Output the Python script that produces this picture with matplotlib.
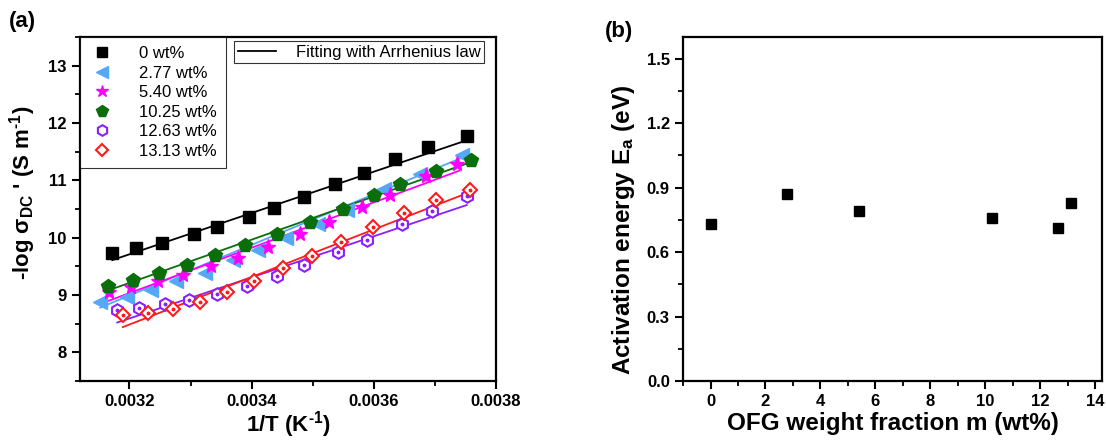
import numpy as np
import matplotlib
matplotlib.use('Agg')
import matplotlib.pyplot as plt
from matplotlib.ticker import MultipleLocator, FormatStrFormatter

plt.rcParams['font.family'] = ['Liberation Sans', 'DejaVu Sans']
plt.rcParams['mathtext.fontset'] = 'custom'
plt.rcParams['mathtext.rm'] = 'Liberation Sans:bold'
plt.rcParams['mathtext.it'] = 'Liberation Sans:bold'
plt.rcParams['mathtext.bf'] = 'Liberation Sans:bold'
plt.rcParams['mathtext.default'] = 'regular'

# ---- panel (a): -log sigma_DC vs 1/T ----
labels = ['0 wt%', '2.77 wt%', '5.40 wt%', '10.25 wt%', '12.63 wt%', '13.13 wt%']

x_0 = [0.003172, 0.003210, 0.003254, 0.003305, 0.003344, 0.003396, 0.003437,
       0.003485, 0.003536, 0.003584, 0.003635, 0.003689, 0.003752]
y_0 = [9.73, 9.82, 9.90, 10.06, 10.18, 10.36, 10.52, 10.71, 10.93, 11.13,
       11.37, 11.58, 11.77]

x_277 = [0.003152, 0.003196, 0.003235, 0.003276, 0.003324, 0.003370, 0.003411,
         0.003457, 0.003509, 0.003556, 0.003616, 0.003676, 0.003744]
y_277 = [8.87, 8.96, 9.09, 9.24, 9.39, 9.61, 9.79, 10.00, 10.24, 10.49,
         10.85, 11.12, 11.44]

x_540 = [0.003166, 0.003202, 0.003246, 0.003287, 0.003333, 0.003377, 0.003426,
         0.003479, 0.003527, 0.003580, 0.003627, 0.003686, 0.003736]
y_540 = [9.05, 9.14, 9.24, 9.35, 9.50, 9.64, 9.83, 10.06, 10.28, 10.53,
         10.74, 11.07, 11.29]

x_1025 = [0.003165, 0.003205, 0.003249, 0.003294, 0.003340, 0.003389, 0.003442,
          0.003496, 0.003549, 0.003600, 0.003643, 0.003702, 0.003759]
y_1025 = [9.15, 9.27, 9.39, 9.53, 9.69, 9.87, 10.06, 10.27, 10.50, 10.74,
          10.93, 11.17, 11.36]

x_1263 = [0.003180, 0.003215, 0.003258, 0.003298, 0.003343, 0.003392, 0.003441,
          0.003485, 0.003542, 0.003588, 0.003646, 0.003695, 0.003752]
y_1263 = [8.74, 8.77, 8.85, 8.92, 9.01, 9.16, 9.34, 9.52, 9.75, 9.96,
          10.24, 10.46, 10.73]

x_1313 = [0.003189, 0.003230, 0.003271, 0.003315, 0.003359, 0.003404, 0.003451,
          0.003498, 0.003546, 0.003598, 0.003650, 0.003702, 0.003758]
y_1313 = [8.66, 8.69, 8.75, 8.88, 9.05, 9.25, 9.47, 9.68, 9.93, 10.18,
          10.44, 10.65, 10.83]

# Arrhenius fit lines (end points)
fit_x = [[0.003172, 0.003752], [0.003152, 0.003752], [0.003166, 0.003740],
         [0.003165, 0.003759], [0.003180, 0.003752], [0.003189, 0.003758]]
fit_y = [[9.61, 11.70], [8.78, 11.43], [8.90, 11.17],
         [9.08, 11.32], [8.52, 10.57], [8.44, 10.80]]

# ---- panel (b): activation energy ----
m_frac = [0, 2.77, 5.40, 10.25, 12.63, 13.13]
Ea = [0.73, 0.87, 0.79, 0.76, 0.71, 0.83]

colors = ['black', '#55a8f5', '#ff00ff', '#0a6e0a', '#8a1fff', '#ff1a1a']
markers = ['s', '<', '*', 'p', 'h', 'D']
msizes = [8.5, 10, 11, 10, 9, 7]
filled = [True, True, True, True, False, False]

xs = [x_0, x_277, x_540, x_1025, x_1263, x_1313]
ys = [y_0, y_277, y_540, y_1025, y_1263, y_1313]

fig = plt.figure(figsize=(11.06, 4.42), dpi=100)
ax1 = fig.add_axes([0.0723, 0.138, 0.3762, 0.778])
ax2 = fig.add_axes([0.6176, 0.138, 0.3788, 0.778])

# Fit lines
line_handle = None
for i in range(6):
    l, = ax1.plot(fit_x[i], fit_y[i], '-', color=colors[i], lw=1.3, zorder=2)
    if i == 0:
        line_handle = l

# Data points
handles = []
for i in range(6):
    if filled[i]:
        h, = ax1.plot(xs[i], ys[i], ls='none', marker=markers[i], ms=msizes[i],
                      color=colors[i], mec=colors[i], zorder=3)
    else:
        h, = ax1.plot(xs[i], ys[i], ls='none', marker=markers[i], ms=msizes[i],
                      mfc='white', mec=colors[i], mew=1.5, zorder=3)
        ax1.plot(xs[i], ys[i], ls='none', marker='o', ms=1.8,
                 color=colors[i], zorder=4)
    handles.append(h)

ax1.set_xlim(0.003119, 0.0038)
ax1.set_ylim(7.5, 13.5)
ax1.xaxis.set_major_locator(MultipleLocator(0.0002))
ax1.xaxis.set_minor_locator(MultipleLocator(0.0001))
ax1.xaxis.set_major_formatter(FormatStrFormatter('%.4f'))
ax1.yaxis.set_major_locator(MultipleLocator(1))
ax1.yaxis.set_minor_locator(MultipleLocator(0.5))
ax1.set_xlabel(r'1/T (K$^{\text{-}1}$)', fontsize=16, fontweight='bold', labelpad=0)
ax1.set_ylabel(r"-log $\sigma_{DC}$ ' (S m$^{\text{-}1}$)", fontsize=16,
               fontweight='bold')
ax1.yaxis.set_label_coords(-0.101, 0.547)

leg1 = ax1.legend(handles, labels, loc='upper left', bbox_to_anchor=(0, 1),
                  borderaxespad=0, fontsize=12, frameon=True, fancybox=False,
                  edgecolor='black', labelspacing=0.27, handletextpad=1.5,
                  borderpad=0.55, handlelength=1.5, markerscale=0.85)
leg1.get_frame().set_linewidth(0.8)
ax1.add_artist(leg1)
leg2 = ax1.legend([line_handle], ['Fitting with Arrhenius law'], loc='upper right',
                  bbox_to_anchor=(0.971, 0.988), borderaxespad=0, fontsize=12,
                  frameon=True, fancybox=False, edgecolor='black',
                  handlelength=2.3, handletextpad=1.2, borderpad=0.2)
leg2.get_frame().set_linewidth(0.8)

# Panel (b)
ax2.plot(m_frac, Ea, ls='none', marker='s', ms=7.5, color='black')
ax2.set_xlim(-1, 14.25)
ax2.set_ylim(0, 1.6)
ax2.xaxis.set_major_locator(MultipleLocator(2))
ax2.xaxis.set_minor_locator(MultipleLocator(1))
ax2.yaxis.set_major_locator(MultipleLocator(0.3))
ax2.yaxis.set_minor_locator(MultipleLocator(0.15))
ax2.yaxis.set_major_formatter(FormatStrFormatter('%.1f'))
ax2.set_xlabel('OFG weight fraction m (wt%)', fontsize=17.5, fontweight='bold',
               labelpad=2)
ax2.set_ylabel(r'Activation energy E$_{a}$ (eV)', fontsize=17.5,
               fontweight='bold')
ax2.yaxis.set_label_coords(-0.11, 0.439)

for ax in (ax1, ax2):
    for sp in ax.spines.values():
        sp.set_linewidth(1.6)
    ax.tick_params(which='major', direction='out', length=6, width=1.5,
                   labelsize=12)
    ax.tick_params(which='minor', direction='out', length=3.5, width=1.3)
    for lab in ax.get_xticklabels() + ax.get_yticklabels():
        lab.set_fontweight('bold')

fig.text(0.008, 0.975, '(a)', fontsize=16, fontweight='bold', va='top', ha='left')
fig.text(0.547, 0.952, '(b)', fontsize=16, fontweight='bold', va='top', ha='left')

fig.savefig('out.png', dpi=100)
